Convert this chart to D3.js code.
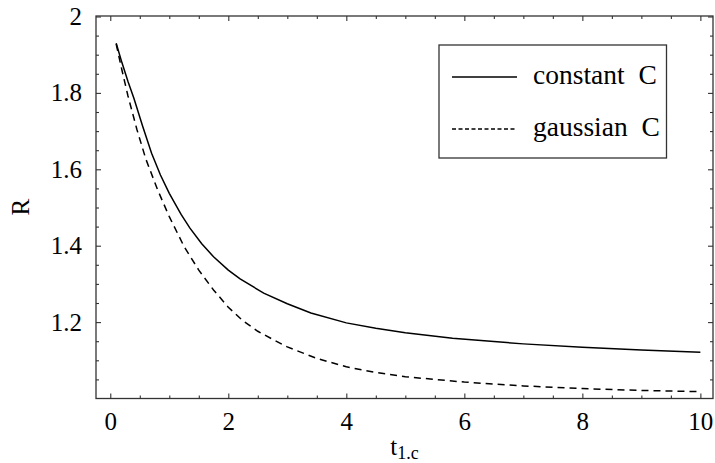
<!DOCTYPE html>
<html>
<head>
<meta charset="utf-8">
<script src="https://cdn.jsdelivr.net/npm/d3@7"></script>
<style>
  html, body { margin: 0; padding: 0; background: #fff; }
  svg { display: block; }
  svg text { font-family: "Liberation Serif", "DejaVu Serif", "Times New Roman", Times, serif !important; fill: #000; }
</style>
</head>
<body>
<svg id="chart" width="715" height="463"></svg>
<script>
// ---- data ----
const tConstant = [0.1, 0.2, 0.3, 0.4, 0.55, 0.7, 0.85, 1.0, 1.2, 1.35, 1.55, 1.75, 2.0, 2.2, 2.6, 3.0, 3.4, 4.0, 4.5, 5.0, 5.8, 6.5, 7.0, 8.0, 9.0, 10.0];
const rConstant = [1.930, 1.878, 1.830, 1.786, 1.712, 1.642, 1.585, 1.537, 1.482, 1.446, 1.405, 1.371, 1.336, 1.313, 1.276, 1.248, 1.224, 1.198, 1.184, 1.172, 1.158, 1.149, 1.143, 1.134, 1.127, 1.121];
const tGaussian = [0.1, 0.2, 0.3, 0.45, 0.6, 0.8, 1.0, 1.25, 1.5, 1.75, 2.0, 2.25, 2.5, 2.75, 3.0, 3.5, 4.0, 4.5, 5.0, 6.0, 7.0, 8.0, 9.0, 10.0];
const rGaussian = [1.928, 1.858, 1.792, 1.705, 1.628, 1.547, 1.476, 1.398, 1.336, 1.284, 1.239, 1.203, 1.176, 1.155, 1.135, 1.105, 1.083, 1.068, 1.057, 1.043, 1.033, 1.026, 1.021, 1.018];
const xMajorTicks = [0, 2, 4, 6, 8, 10];
const xMinorTicks = [0.5, 1, 1.5, 2.5, 3, 3.5, 4.5, 5, 5.5, 6.5, 7, 7.5, 8.5, 9, 9.5];
const yMajorTicks = [1.2, 1.4, 1.6, 1.8, 2];
const yMinorTicks = [1.05, 1.1, 1.15, 1.25, 1.3, 1.35, 1.45, 1.5, 1.55, 1.65, 1.7, 1.75, 1.85, 1.9, 1.95];
const seriesNames = ["constant  C", "gaussian  C"];
const xLabel = "t";
const xLabelSub = "1.c";
const yLabel = "R";

// ---- layout ----
const svg = d3.select("#chart");
const L = 96, R = 713, T = 16, B = 398.5;
const x = d3.scaleLinear().domain([-0.242, 10.214]).range([L, R]);
const y = d3.scaleLinear().domain([1.0, 2.0]).range([B, T + 0.5]);
const frameColor = "#333";
const fontSize = 25;
const serif = '"Liberation Serif", "DejaVu Serif", serif';

// frame
svg.append("rect").attr("x", L).attr("y", T).attr("width", R - L).attr("height", B - T)
  .attr("fill", "none").attr("stroke", frameColor).attr("stroke-width", 1.3);

function styleAxis(g) {
  g.attr("font-family", serif);
  g.select(".domain").remove();
  g.selectAll("line").attr("stroke", frameColor).attr("stroke-width", 1.1);
  g.selectAll("text").style("font-size", fontSize + "px").style("font-family", serif);
}
const fmt = d => d3.format("")(d);

// bottom
svg.append("g").attr("transform", `translate(0,${B})`)
  .call(d3.axisBottom(x).tickValues(xMajorTicks).tickSize(-5).tickPadding(14).tickFormat(fmt)).call(styleAxis);
svg.append("g").attr("transform", `translate(0,${B})`)
  .call(d3.axisBottom(x).tickValues(xMinorTicks).tickSize(-3).tickFormat("")).call(styleAxis);
// top
svg.append("g").attr("transform", `translate(0,${T})`)
  .call(d3.axisTop(x).tickValues(xMajorTicks).tickSize(-5).tickFormat("")).call(styleAxis);
svg.append("g").attr("transform", `translate(0,${T})`)
  .call(d3.axisTop(x).tickValues(xMinorTicks).tickSize(-3).tickFormat("")).call(styleAxis);
// left
svg.append("g").attr("transform", `translate(${L},0)`)
  .call(d3.axisLeft(y).tickValues(yMajorTicks).tickSize(-5).tickPadding(14).tickFormat(fmt)).call(styleAxis);
svg.append("g").attr("transform", `translate(${L},0)`)
  .call(d3.axisLeft(y).tickValues(yMinorTicks).tickSize(-3).tickFormat("")).call(styleAxis);
// right
svg.append("g").attr("transform", `translate(${R},0)`)
  .call(d3.axisRight(y).tickValues(yMajorTicks).tickSize(-5).tickFormat("")).call(styleAxis);
svg.append("g").attr("transform", `translate(${R},0)`)
  .call(d3.axisRight(y).tickValues(yMinorTicks).tickSize(-3).tickFormat("")).call(styleAxis);

// curves
const line = d3.line().x(d => x(d[0])).y(d => y(d[1]));
svg.append("path").datum(d3.zip(tConstant, rConstant)).attr("d", line)
  .attr("fill", "none").attr("stroke", "#000").attr("stroke-width", 1.5);
svg.append("path").datum(d3.zip(tGaussian, rGaussian)).attr("d", line)
  .attr("fill", "none").attr("stroke", "#000").attr("stroke-width", 1.5).attr("stroke-dasharray", "7,5");

// axis labels
const xl = svg.append("text").attr("x", (L + R) / 2).attr("y", 455).attr("text-anchor", "middle")
  .style("font-size", fontSize + "px").style("font-family", serif);
xl.append("tspan").text(xLabel);
xl.append("tspan").attr("dy", 4).style("font-size", "18px").text(xLabelSub);
svg.append("text").attr("transform", `translate(29,${(T + B) / 2}) rotate(-90)`)
  .attr("text-anchor", "middle").style("font-size", fontSize + "px").style("font-family", serif).text(yLabel);

// legend
const lg = svg.append("g");
lg.append("rect").attr("x", 439).attr("y", 45).attr("width", 227.5).attr("height", 113)
  .attr("fill", "#fff").attr("stroke", frameColor).attr("stroke-width", 1.3);
const legendY = [77, 129];
const dashes = [null, "4,2.5"];
seriesNames.forEach((name, i) => {
  lg.append("line").attr("x1", 452).attr("x2", 517).attr("y1", legendY[i]).attr("y2", legendY[i])
    .attr("stroke", "#000").attr("stroke-width", 1.3).attr("stroke-dasharray", dashes[i]);
  lg.append("text").attr("x", 533).attr("y", legendY[i] + 7).style("font-size", "27.5px")
    .style("font-family", serif).attr("xml:space", "preserve").style("white-space", "pre").text(name);
});
</script>
</body>
</html>
